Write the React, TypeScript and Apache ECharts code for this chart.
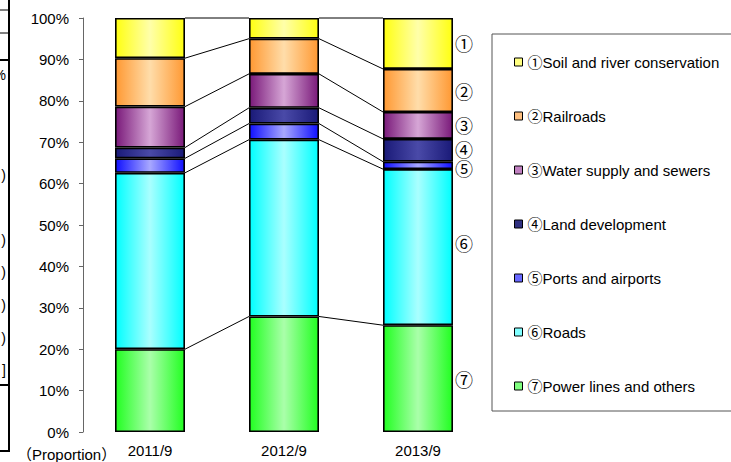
import React, { useEffect, useRef } from "react";
import * as echarts from "echarts";

const categories = ["2011/9", "2012/9", "2013/9"];
const soilRiver = [9.7, 5.0, 12.3];
const railroads = [11.7, 8.5, 10.4];
const waterSewers = [9.9, 8.2, 6.5];
const landDevelopment = [2.6, 3.8, 5.5];
const portsAirports = [3.5, 3.9, 1.8];
const roads = [42.6, 42.7, 37.7];
const powerLines = [20.0, 27.9, 25.8];

const legendNames = [
  "①Soil and river conservation",
  "②Railroads",
  "③Water supply and sewers",
  "④Land development",
  "⑤Ports and airports",
  "⑥Roads",
  "⑦Power lines and others",
];
const marks = ["①", "②", "③", "④", "⑤", "⑥", "⑦"];

// bottom to top stacking order
const stackData = [powerLines, roads, portsAirports, landDevelopment, waterSewers, railroads, soilRiver];
const stackIdx = [6, 5, 4, 3, 2, 1, 0];
const edgeColors = ["#22FF22", "#00FFFF", "#1010FF", "#1A1A78", "#7A1A7A", "#FF9933", "#FFFF11"];
const centerColors = ["#AAFFAA", "#AAFFFF", "#A8A8FF", "#4A4AA8", "#D6A6D6", "#FFDDAA", "#FFFFAA"];
const legendColors = ["#80FF80", "#80FFFF", "#6868FF", "#303080", "#C080C0", "#FFC080", "#FFFF80"];
const labelOffsets = [0, -4, 3, -1, 0, 1, 0];

export default function App() {
  const ref = useRef<HTMLDivElement>(null);
  useEffect(() => {
    if (!ref.current) return;
    const chart = echarts.init(ref.current, null, { renderer: "svg" });
    const font = "'Liberation Sans', Arial, 'Noto Sans CJK JP', sans-serif";
    const HALF = 35;

    const barSeries = stackData.map((arr, s) => ({
      type: "bar",
      name: legendNames[stackIdx[s]],
      stack: "total",
      barWidth: 70,
      data: arr.map((v, j) =>
        j === 2
          ? {
              value: v,
              label: {
                show: true,
                formatter: marks[stackIdx[s]],
                offset: [0, labelOffsets[s]],
              },
            }
          : v
      ),
      itemStyle: {
        borderColor: "#000",
        borderWidth: 1.6,
        color: new echarts.graphic.LinearGradient(0, 0, 1, 0, [
          { offset: 0, color: edgeColors[s] },
          { offset: 0.5, color: centerColors[s] },
          { offset: 1, color: edgeColors[s] },
        ]),
      },
      label: {
        show: false,
        position: "right",
        distance: 2,
        color: "#000",
        fontSize: 18,
        lineHeight: 16,
        fontFamily: "'Noto Sans CJK JP', 'DejaVu Sans', sans-serif",
      },
      emphasis: { disabled: true },
    }));

    // cumulative levels for series lines
    const cum: number[][] = [];
    const running = categories.map(() => 0);
    stackData.forEach((arr) => {
      arr.forEach((v, j) => (running[j] += v));
      cum.push(running.slice());
    });
    const lineData: number[][] = [];
    cum.forEach((lv) => {
      for (let j = 0; j < categories.length - 1; j++) {
        lineData.push([j, lv[j], lv[j + 1]]);
      }
    });

    const option: any = {
      animation: false,
      backgroundColor: "#fff",
      grid: { left: 83, top: 18, width: 402, height: 414, containLabel: false },
      xAxis: {
        type: "category",
        data: categories,
        axisLine: { show: false },
        axisTick: { show: false },
        axisLabel: { color: "#000", fontSize: 15, fontFamily: font, margin: 11 },
      },
      yAxis: {
        type: "value",
        min: 0,
        max: 100,
        interval: 10,
        splitLine: { show: false },
        axisLine: { show: true, lineStyle: { color: "#666", width: 1 } },
        axisTick: { show: true, length: 4, lineStyle: { color: "#666" } },
        axisLabel: {
          color: "#000",
          fontSize: 15,
          fontFamily: font,
          margin: 14,
          formatter: "{value}%",
        },
      },
      legend: {
        orient: "vertical",
        left: 514,
        top: 54,
        padding: 0,
        itemWidth: 8,
        itemHeight: 8,
        itemGap: 38,
        icon: "rect",
        selectedMode: false,
        textStyle: { fontSize: 15, lineHeight: 16, color: "#000", fontFamily: font },
        data: legendNames.map((n, i) => ({
          name: n,
          itemStyle: {
            color: legendColors[stackIdx.indexOf(i)],
            borderColor: "#000",
            borderWidth: 1,
          },
        })),
      },
      graphic: [
        {
          type: "rect",
          shape: { x: 492, y: 34, width: 260, height: 377 },
          style: { fill: "none", stroke: "#555", lineWidth: 1 },
        },
        {
          type: "text",
          x: 17,
          y: 454,
          style: {
            text: "（Proportion）",
            fontSize: 15,
            fill: "#000",
            fontFamily: "'Liberation Sans', 'Noto Sans CJK JP', sans-serif",
            verticalAlign: "middle",
          },
        },
        // clipped table edge at far left
        { type: "line", shape: { x1: 9, y1: 0, x2: 9, y2: 452 }, style: { stroke: "#000", lineWidth: 2 } },
        { type: "line", shape: { x1: 0, y1: 10, x2: 9, y2: 10 }, style: { stroke: "#000", lineWidth: 1 } },
        { type: "line", shape: { x1: 0, y1: 33, x2: 9, y2: 33 }, style: { stroke: "#000", lineWidth: 1 } },
        { type: "line", shape: { x1: 0, y1: 60, x2: 9, y2: 60 }, style: { stroke: "#000", lineWidth: 2 } },
        { type: "line", shape: { x1: 0, y1: 385, x2: 9, y2: 385 }, style: { stroke: "#000", lineWidth: 2 } },
        { type: "line", shape: { x1: 0, y1: 451, x2: 9, y2: 451 }, style: { stroke: "#000", lineWidth: 2 } },
        ...[
          ["%", 75],
          [")", 175],
          [")", 240],
          [")", 272],
          [")", 305],
          [")", 338],
          ["]", 370],
        ].map(([t, y]) => ({
          type: "text",
          x: 6,
          y: y as number,
          style: {
            text: t as string,
            fontSize: 14,
            fill: "#000",
            fontFamily: font,
            align: "right",
            verticalAlign: "middle",
          },
        })),
      ],
      series: [
        ...barSeries,
        {
          type: "custom",
          silent: true,
          clip: false,
          z: 1,
          encode: { x: 0, y: 1 },
          data: lineData,
          renderItem: (params: any, api: any) => {
            const j = api.value(0);
            const a = api.value(1);
            const b = api.value(2);
            const p1 = api.coord([j, a]);
            const p2 = api.coord([j + 1, b]);
            return {
              type: "line",
              shape: { x1: p1[0] + HALF, y1: p1[1], x2: p2[0] - HALF, y2: p2[1] },
              style: { stroke: "#000", lineWidth: 1 },
            };
          },
        },
      ],
    };
    chart.setOption(option);
    return () => chart.dispose();
  }, []);
  return (
    <div
      ref={ref}
      style={{ position: "absolute", left: 0, top: 0, width: 731, height: 462 }}
    />
  );
}
